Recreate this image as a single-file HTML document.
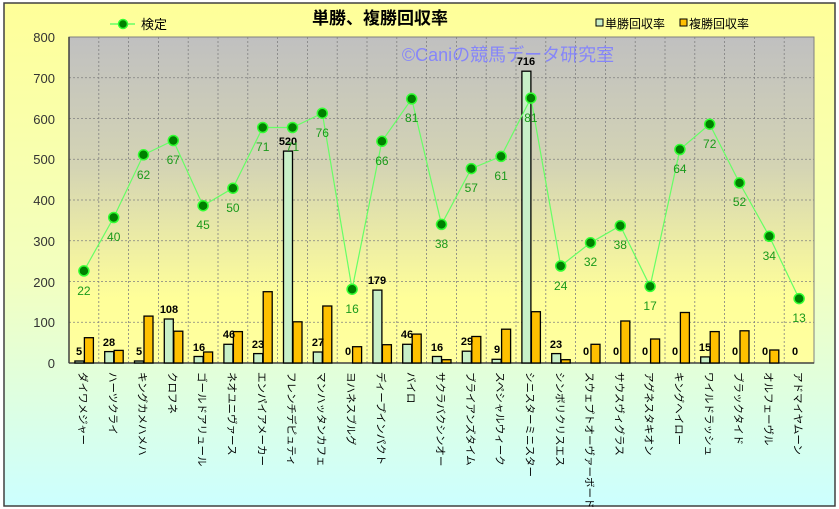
<!DOCTYPE html>
<html><head><meta charset="utf-8"><style>body{margin:0}svg{display:block}</style></head><body>
<svg width="839" height="509" xmlns="http://www.w3.org/2000/svg" font-family="Liberation Sans, Noto Sans CJK JP, sans-serif">
<defs>
<linearGradient id="bg" x1="0" y1="0" x2="0" y2="1"><stop offset="0" stop-color="#ffff99"/><stop offset="0.55" stop-color="#f2ffc0"/><stop offset="1" stop-color="#ccffff"/></linearGradient>
<linearGradient id="pl" x1="0" y1="0" x2="0" y2="1"><stop offset="0" stop-color="#c0c0c0"/><stop offset="0.4" stop-color="#d4d4b4"/><stop offset="0.8" stop-color="#ffff99"/><stop offset="1" stop-color="#ffffa0"/></linearGradient>
</defs>
<rect x="0" y="0" width="839" height="509" fill="#fff"/>
<rect x="4" y="3" width="831" height="503" fill="url(#bg)" stroke="#404040" stroke-width="1.5"/>
<rect x="69" y="37" width="745" height="326" fill="url(#pl)" stroke="#808080" stroke-width="1"/>
<g stroke="#808080" stroke-width="0.8" stroke-dasharray="2,2">
<line x1="69" y1="77.75" x2="814" y2="77.75"/><line x1="69" y1="118.5" x2="814" y2="118.5"/><line x1="69" y1="159.25" x2="814" y2="159.25"/><line x1="69" y1="200" x2="814" y2="200"/><line x1="69" y1="240.75" x2="814" y2="240.75"/><line x1="69" y1="281.5" x2="814" y2="281.5"/><line x1="69" y1="322.25" x2="814" y2="322.25"/>
<line x1="98.8" y1="37" x2="98.8" y2="363"/><line x1="128.6" y1="37" x2="128.6" y2="363"/><line x1="158.4" y1="37" x2="158.4" y2="363"/><line x1="188.2" y1="37" x2="188.2" y2="363"/><line x1="218" y1="37" x2="218" y2="363"/><line x1="247.8" y1="37" x2="247.8" y2="363"/><line x1="277.6" y1="37" x2="277.6" y2="363"/><line x1="307.4" y1="37" x2="307.4" y2="363"/><line x1="337.2" y1="37" x2="337.2" y2="363"/><line x1="367" y1="37" x2="367" y2="363"/><line x1="396.8" y1="37" x2="396.8" y2="363"/><line x1="426.6" y1="37" x2="426.6" y2="363"/><line x1="456.4" y1="37" x2="456.4" y2="363"/><line x1="486.2" y1="37" x2="486.2" y2="363"/><line x1="516" y1="37" x2="516" y2="363"/><line x1="545.8" y1="37" x2="545.8" y2="363"/><line x1="575.6" y1="37" x2="575.6" y2="363"/><line x1="605.4" y1="37" x2="605.4" y2="363"/><line x1="635.2" y1="37" x2="635.2" y2="363"/><line x1="665" y1="37" x2="665" y2="363"/><line x1="694.8" y1="37" x2="694.8" y2="363"/><line x1="724.6" y1="37" x2="724.6" y2="363"/><line x1="754.4" y1="37" x2="754.4" y2="363"/><line x1="784.2" y1="37" x2="784.2" y2="363"/>
</g>
<line x1="69" y1="37" x2="69" y2="363" stroke="#404040" stroke-width="1.5"/>
<line x1="69" y1="363" x2="814" y2="363" stroke="#404040" stroke-width="1.5"/>
<g font-size="13" fill="#333" text-anchor="end">
<text x="55" y="42">800</text><text x="55" y="83">700</text><text x="55" y="124">600</text><text x="55" y="164">500</text><text x="55" y="205">400</text><text x="55" y="246">300</text><text x="55" y="287">200</text><text x="55" y="327">100</text><text x="55" y="368">0</text>
</g>
<text x="508" y="61" font-size="18" fill="#7f7fff" fill-opacity="0.9" text-anchor="middle">©Caniの競馬データ研究室</text>
<text x="380" y="24" font-size="17" font-weight="bold" text-anchor="middle" fill="#000">単勝、複勝回収率</text>
<line x1="110" y1="24" x2="135" y2="24" stroke="#66ff66" stroke-width="1.5"/><circle cx="123" cy="24" r="4.5" fill="#008000" stroke="#33ff33" stroke-width="1.5"/>
<text x="141" y="29" font-size="13" fill="#000">検定</text>
<rect x="596" y="19" width="7" height="7" fill="#c8f0c8" stroke="#000"/><text x="605" y="28" font-size="12" fill="#000">単勝回収率</text>
<rect x="680" y="19" width="7" height="7" fill="#ffc000" stroke="#000"/><text x="689" y="28" font-size="12" fill="#000">複勝回収率</text>
<g stroke="#000" stroke-width="1.3" fill="#c8f0c8">
<rect x="74.9" y="361" width="9" height="2"/><rect x="104.7" y="351.6" width="9" height="11.4"/><rect x="134.5" y="361" width="9" height="2"/><rect x="164.3" y="319" width="9" height="44"/><rect x="194.1" y="356.5" width="9" height="6.5"/><rect x="223.9" y="344.3" width="9" height="18.7"/><rect x="253.7" y="353.6" width="9" height="9.4"/><rect x="283.5" y="151.1" width="9" height="211.9"/><rect x="313.3" y="352" width="9" height="11"/><rect x="372.9" y="290.1" width="9" height="72.9"/><rect x="402.7" y="344.3" width="9" height="18.7"/><rect x="432.5" y="356.5" width="9" height="6.5"/><rect x="462.3" y="351.2" width="9" height="11.8"/><rect x="492.1" y="359.3" width="9" height="3.7"/><rect x="521.9" y="71.2" width="9" height="291.8"/><rect x="551.7" y="353.6" width="9" height="9.4"/><rect x="700.7" y="356.9" width="9" height="6.1"/>
</g>
<g stroke="#000" stroke-width="1.3" fill="#ffc000">
<rect x="84.4" y="337.7" width="9" height="25.3"/><rect x="114.2" y="350.4" width="9" height="12.6"/><rect x="144" y="316.1" width="9" height="46.9"/><rect x="173.8" y="331.2" width="9" height="31.8"/><rect x="203.6" y="352" width="9" height="11"/><rect x="233.4" y="331.6" width="9" height="31.4"/><rect x="263.2" y="291.7" width="9" height="71.3"/><rect x="293" y="321.8" width="9" height="41.2"/><rect x="322.8" y="306" width="9" height="57"/><rect x="352.6" y="346.7" width="9" height="16.3"/><rect x="382.4" y="344.7" width="9" height="18.3"/><rect x="412.2" y="334.1" width="9" height="28.9"/><rect x="442" y="359.7" width="9" height="3.3"/><rect x="471.8" y="336.5" width="9" height="26.5"/><rect x="501.6" y="329.2" width="9" height="33.8"/><rect x="531.4" y="311.7" width="9" height="51.3"/><rect x="561.2" y="359.7" width="9" height="3.3"/><rect x="591" y="344.3" width="9" height="18.7"/><rect x="620.8" y="321" width="9" height="42"/><rect x="650.6" y="339" width="9" height="24"/><rect x="680.4" y="312.5" width="9" height="50.5"/><rect x="710.2" y="331.6" width="9" height="31.4"/><rect x="740" y="330.8" width="9" height="32.2"/><rect x="769.8" y="350" width="9" height="13"/>
</g>
<g font-size="11" font-weight="bold" fill="#000" text-anchor="middle">
<text x="79" y="355">5</text><text x="109" y="346">28</text><text x="139" y="355">5</text><text x="169" y="313">108</text><text x="199" y="351">16</text><text x="229" y="338">46</text><text x="258" y="348">23</text><text x="288" y="145">520</text><text x="318" y="346">27</text><text x="348" y="355">0</text><text x="377" y="284">179</text><text x="407" y="338">46</text><text x="437" y="351">16</text><text x="467" y="345">29</text><text x="497" y="353">9</text><text x="526" y="65">716</text><text x="556" y="348">23</text><text x="586" y="355">0</text><text x="616" y="355">0</text><text x="645" y="355">0</text><text x="675" y="355">0</text><text x="705" y="351">15</text><text x="735" y="355">0</text><text x="765" y="355">0</text><text x="795" y="355">0</text>
</g>
<polyline fill="none" stroke="#66ff66" stroke-width="1.2" points="83.9,270.9 113.7,217.5 143.5,154.8 173.3,140.5 203.1,205.7 232.9,188.2 262.7,127.5 292.5,127.5 322.3,113.2 352.1,289.2 381.9,141.3 411.7,98.9 441.5,224.4 471.3,168.6 501.1,156.4 530.9,98.1 560.7,266 590.5,242.8 620.3,225.7 650.1,286.4 679.9,149.5 709.7,124.2 739.5,182.9 769.3,236.3 799.1,298.6"/>
<g fill="#008000" stroke="#33ff33" stroke-width="1.5">
<circle cx="83.9" cy="270.9" r="5"/><circle cx="113.7" cy="217.5" r="5"/><circle cx="143.5" cy="154.8" r="5"/><circle cx="173.3" cy="140.5" r="5"/><circle cx="203.1" cy="205.7" r="5"/><circle cx="232.9" cy="188.2" r="5"/><circle cx="262.7" cy="127.5" r="5"/><circle cx="292.5" cy="127.5" r="5"/><circle cx="322.3" cy="113.2" r="5"/><circle cx="352.1" cy="289.2" r="5"/><circle cx="381.9" cy="141.3" r="5"/><circle cx="411.7" cy="98.9" r="5"/><circle cx="441.5" cy="224.4" r="5"/><circle cx="471.3" cy="168.6" r="5"/><circle cx="501.1" cy="156.4" r="5"/><circle cx="530.9" cy="98.1" r="5"/><circle cx="560.7" cy="266" r="5"/><circle cx="590.5" cy="242.8" r="5"/><circle cx="620.3" cy="225.7" r="5"/><circle cx="650.1" cy="286.4" r="5"/><circle cx="679.9" cy="149.5" r="5"/><circle cx="709.7" cy="124.2" r="5"/><circle cx="739.5" cy="182.9" r="5"/><circle cx="769.3" cy="236.3" r="5"/><circle cx="799.1" cy="298.6" r="5"/>
</g>
<g font-size="12" fill="#1a9a1a" text-anchor="middle">
<text x="83.9" y="295">22</text><text x="113.7" y="241">40</text><text x="143.5" y="179">62</text><text x="173.3" y="164">67</text><text x="203.1" y="229">45</text><text x="232.9" y="212">50</text><text x="262.7" y="151">71</text><text x="292.5" y="151">71</text><text x="322.3" y="137">76</text><text x="352.1" y="313">16</text><text x="381.9" y="165">66</text><text x="411.7" y="122">81</text><text x="441.5" y="248">38</text><text x="471.3" y="192">57</text><text x="501.1" y="180">61</text><text x="530.9" y="122">81</text><text x="560.7" y="290">24</text><text x="590.5" y="266">32</text><text x="620.3" y="249">38</text><text x="650.1" y="310">17</text><text x="679.9" y="173">64</text><text x="709.7" y="148">72</text><text x="739.5" y="206">52</text><text x="769.3" y="260">34</text><text x="799.1" y="322">13</text>
</g>
<g font-size="10.5" fill="#000">
<text transform="translate(79.5,372) rotate(90)">ダイワメジャー</text>
<text transform="translate(109.3,372) rotate(90)">ハーツクライ</text>
<text transform="translate(139.1,372) rotate(90)">キングカメハメハ</text>
<text transform="translate(168.9,372) rotate(90)">クロフネ</text>
<text transform="translate(198.7,372) rotate(90)">ゴールドアリュール</text>
<text transform="translate(228.5,372) rotate(90)">ネオユニヴァース</text>
<text transform="translate(258.3,372) rotate(90)">エンパイアメーカー</text>
<text transform="translate(288.1,372) rotate(90)">フレンチデピュティ</text>
<text transform="translate(317.9,372) rotate(90)">マンハッタンカフェ</text>
<text transform="translate(347.7,372) rotate(90)">ヨハネスブルグ</text>
<text transform="translate(377.5,372) rotate(90)">ディープインパクト</text>
<text transform="translate(407.3,372) rotate(90)">バイロ</text>
<text transform="translate(437.1,372) rotate(90)">サクラバクシンオー</text>
<text transform="translate(466.9,372) rotate(90)">ブライアンズタイム</text>
<text transform="translate(496.7,372) rotate(90)">スペシャルウィーク</text>
<text transform="translate(526.5,372) rotate(90)">シニスターミニスター</text>
<text transform="translate(556.3,372) rotate(90)">シンボリクリスエス</text>
<text transform="translate(586.1,372) rotate(90)">スウェプトオーヴァーボード</text>
<text transform="translate(615.9,372) rotate(90)">サウスヴィグラス</text>
<text transform="translate(645.7,372) rotate(90)">アグネスタキオン</text>
<text transform="translate(675.5,372) rotate(90)">キングヘイロー</text>
<text transform="translate(705.3,372) rotate(90)">ワイルドラッシュ</text>
<text transform="translate(735.1,372) rotate(90)">ブラックタイド</text>
<text transform="translate(764.9,372) rotate(90)">オルフェーヴル</text>
<text transform="translate(794.7,372) rotate(90)">アドマイヤムーン</text>
</g>
</svg>
</body></html>
